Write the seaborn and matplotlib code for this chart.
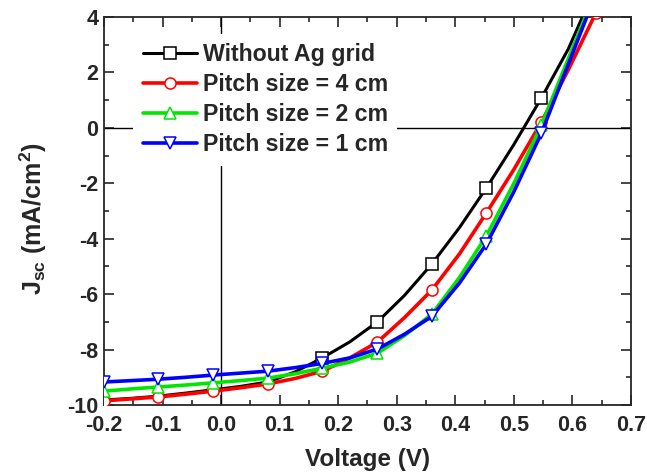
import numpy as np
import pandas as pd
import seaborn as sns
import matplotlib
matplotlib.use('Agg')
import matplotlib.pyplot as plt
from matplotlib.ticker import MultipleLocator

# voltage grid (V) - markers sit on every other point
voltage = [-0.2, -0.153, -0.107, -0.06, -0.013, 0.033, 0.08, 0.127, 0.173, 0.22,
           0.267, 0.313, 0.36, 0.407, 0.453, 0.5, 0.547, 0.593, 0.64]

# current density (mA/cm2)
j_no_grid = [-9.82, -9.76, -9.68, -9.57, -9.45, -9.33, -9.17, -8.8, -8.3, -7.72,
             -7.0, -6.05, -4.91, -3.6, -2.17, -0.6, 1.08, 2.85, 5.1]
j_pitch4 = [-9.85, -9.78, -9.71, -9.61, -9.5, -9.38, -9.24, -9.04, -8.78, -8.3,
            -7.73, -6.85, -5.85, -4.55, -3.07, -1.5, 0.21, 2.1, 4.15]
j_pitch2 = [-9.5, -9.42, -9.35, -9.28, -9.2, -9.12, -9.03, -8.87, -8.67, -8.45,
            -8.13, -7.5, -6.72, -5.4, -3.9, -2.0, 0.1, 2.5, 4.95]
j_pitch1 = [-9.17, -9.12, -9.07, -9.0, -8.92, -8.85, -8.78, -8.65, -8.5, -8.3,
            -7.98, -7.45, -6.8, -5.6, -4.19, -2.3, -0.19, 2.3, 4.85]

labels = ['Without Ag grid', 'Pitch size = 4 cm', 'Pitch size = 2 cm', 'Pitch size = 1 cm']
colors = ['black', '#ff0000', '#00e600', '#0000ff']
markers = ['s', 'o', '^', 'v']
series = [j_no_grid, j_pitch4, j_pitch2, j_pitch1]

sns.set_style('ticks')
plt.rcParams['font.family'] = ['Liberation Sans', 'DejaVu Sans']
plt.rcParams['font.weight'] = 'bold'
plt.rcParams['axes.unicode_minus'] = False
plt.rcParams['mathtext.fontset'] = 'custom'
plt.rcParams['mathtext.rm'] = 'Liberation Sans:bold'
plt.rcParams['mathtext.bf'] = 'Liberation Sans:bold'
plt.rcParams['mathtext.default'] = 'bf'

fig = plt.figure(figsize=(6.47, 4.74), dpi=100)
ax = fig.add_axes([0.1607, 0.1456, 0.8146, 0.8185])

#zero lines
ax.axhline(0, color='black', lw=1, zorder=1)
ax.axvline(0, color='black', lw=1, zorder=1)

for i in range(4):
    # black squares only show from 0.17 V on
    every = slice(8, None, 2) if i == 0 else slice(0, None, 2)
    sns.lineplot(x=voltage, y=series[i], ax=ax, color=colors[i], marker=markers[i],
                 markersize=8, markerfacecolor='white', markeredgecolor=colors[i],
                 markeredgewidth=1.1, lw=2.2 if i == 0 else 2.6, markevery=every,
                 label=labels[i], sort=False, estimator=None, zorder=3)

ax.set_xlim(-0.2, 0.7)
ax.set_ylim(-10, 4)
ax.xaxis.set_major_locator(MultipleLocator(0.1))
ax.xaxis.set_minor_locator(MultipleLocator(0.05))
ax.yaxis.set_major_locator(MultipleLocator(2))
ax.yaxis.set_minor_locator(MultipleLocator(1))
ax.xaxis.set_major_formatter(matplotlib.ticker.FormatStrFormatter('%.1f'))
ax.tick_params(which='both', direction='in', top=True, right=True, width=1.2, labelsize=15.5)
ax.tick_params(which='major', length=7)
ax.tick_params(which='minor', length=3.5)
ax.tick_params(axis='x', pad=7)
ax.tick_params(axis='y', pad=4)
for s in ax.spines.values():
    s.set_linewidth(1.3)

ax.set_xlabel('Voltage (V)', fontsize=17.5, fontweight='bold')
ax.set_ylabel('J$_{sc}$ (mA/cm$^2$)', fontsize=18, fontweight='bold')
ax.xaxis.set_label_coords(0.5, -0.11)
ax.yaxis.set_label_coords(-0.105, 0.48)

leg = ax.legend(loc='upper left', bbox_to_anchor=(0.056, 0.956), fontsize=16.7,
                frameon=True, facecolor='white', edgecolor='none', framealpha=1,
                handlelength=2.33, handletextpad=0.26, labelspacing=0.3,
                borderpad=0.4, borderaxespad=0)
for t in leg.get_texts():
    t.set_fontweight('bold')

plt.savefig('out.png', dpi=100)
